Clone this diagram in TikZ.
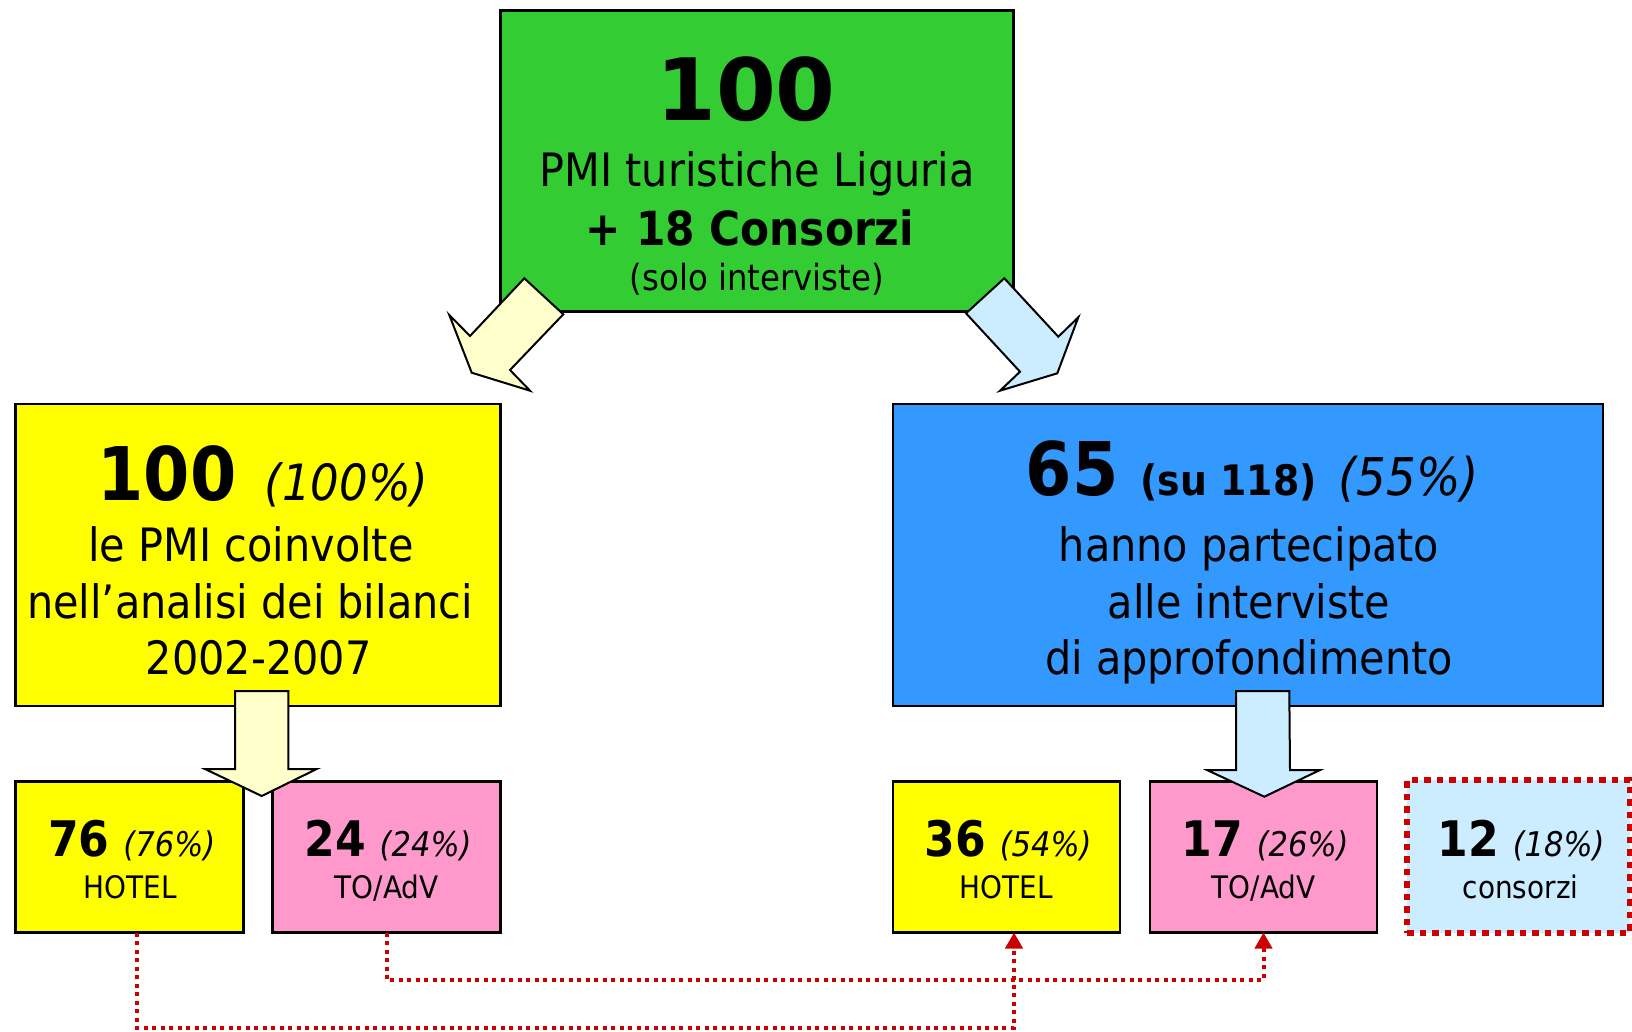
\documentclass[tikz,border=0pt]{standalone}
\usepackage{fontspec}
\setmainfont{DejaVu Sans}[FakeStretch=0.9]
\newfontfamily\widefont{DejaVu Sans}
\usetikzlibrary{arrows.meta}
\definecolor{topgreen}{HTML}{33CC33}
\definecolor{boxyellow}{HTML}{FFFF00}
\definecolor{boxblue}{HTML}{3399FF}
\definecolor{boxpink}{HTML}{FF99CC}
\definecolor{paleyellow}{HTML}{FFFFCC}
\definecolor{paleblue}{HTML}{CCECFF}
\definecolor{linkred}{HTML}{CC0000}
\newcommand{\sz}[1]{\fontsize{#1}{#1}\selectfont}

\begin{document}
\begin{tikzpicture}[x=1pt, y=-1pt,
	box/.style={draw, line width=2.5pt, inner sep=0pt, outer sep=0pt, minimum height=151pt, minimum width=228pt},
	txt/.style={anchor=base, inner sep=0pt},
	bigarrow/.style={draw, line width=2pt, line join=miter},
	link/.style={draw=linkred, line width=4pt, dash pattern=on 4pt off 4.5pt, -{Triangle[width=17pt,length=16pt]}}]
		\useasboundingbox (0,0) rectangle (1632,1031);

		% boxes
		\path
		(757,160.8) node[box, fill=topgreen, minimum width=513pt, minimum height=301pt] (pmi) {}
		(258.1,554.8) node[box, fill=boxyellow, minimum width=485pt, minimum height=302pt] (bilanci) {}
		(1247.9,554.8) node[box, fill=boxblue, minimum width=710pt, minimum height=302pt] (interv) {}
		(129.5,857) node[box, fill=boxyellow] (hotelA) {}
		(386.6,857) node[box, fill=boxpink] (toadvA) {}
		(1006.5,857) node[box, fill=boxyellow, minimum width=227pt] (hotelB) {}
		(1263.5,857) node[box, fill=boxpink, minimum width=227pt] (toadvB) {}
		(1518.5,856.4) node[box, fill=paleblue, draw=linkred, line width=5.5pt, dash pattern=on 6.5pt off 6pt, minimum width=223pt, minimum height=152.7pt] (consB) {};

		% big arrows
		\draw[bigarrow, fill=paleyellow] (524.3,278.3) -- (563.3,314.3) -- (510,370) -- (530,390.7) -- (471.7,372.7) -- (449.3,315) -- (470,336) -- cycle;
		\draw[bigarrow, fill=paleblue] (1004.3,278.3) -- (966,313.3) -- (1020,371.7) -- (1000,390.7) -- (1057.3,373.3) -- (1078.3,317.3) -- (1058.3,336.7) -- cycle;
		\draw[bigarrow, fill=paleyellow] (235,691) -- (288.3,691) -- (288.3,769) -- (316.7,769) -- (261.7,796) -- (205,769) -- (235,769) -- cycle;
		\draw[bigarrow, fill=paleblue] (1236,691) -- (1289.3,691) -- (1290,770) -- (1320,770) -- (1264.3,796.7) -- (1207,770) -- (1236,770) -- cycle;

		% texts
		\path
		(746,120) node[txt] (pmiN) {\widefont\bfseries\sz{86}100}
		(757,186.7) node[txt] (pmiA) {\sz{46}PMI turistiche Liguria}
		(750,245) node[txt] (pmiB) {\sz{47}\bfseries + 18 Consorzi}
		(757,290) node[txt] (pmiC) {\sz{36}(solo interviste)};

		\path
		(263,500) node[txt] (bilN) {{\sz{74}\bfseries 100}\hspace{28pt}{\sz{50}\itshape (100\%)}}
		(251,561) node[txt] (bilA) {\sz{46}le PMI coinvolte}
		(250,618) node[txt] (bilB) {\sz{46}nell’analisi dei bilanci}
		(258.6,674) node[txt] (bilC) {\sz{46}2002-2007};

		\path
		(1252.6,495) node[txt] (intN) {{\sz{74}\bfseries 65}\hspace{22pt}{\sz{42}\bfseries (su 118)}\hspace{22pt}{\sz{52}\itshape (55\%)}}
		(1249,561) node[txt] (intA) {\sz{46}hanno partecipato}
		(1249,618) node[txt] (intB) {\sz{46}alle interviste}
		(1249,674) node[txt] (intC) {\sz{46}di approfondimento};

		\path
		(131.7,856.7) node[txt] (hotelAN) {{\sz{49}\bfseries 76}\hspace{14pt}{\sz{34}\itshape (76\%)}}
		(130,898) node[txt] (hotelAT) {\sz{31}HOTEL}
		(388,856.7) node[txt] (toadvAN) {{\sz{49}\bfseries 24}\hspace{14pt}{\sz{34}\itshape (24\%)}}
		(386.6,898) node[txt] (toadvAT) {\sz{31}TO/AdV}
		(1008,856.7) node[txt] (hotelBN) {{\sz{49}\bfseries 36}\hspace{14pt}{\sz{34}\itshape (54\%)}}
		(1006.5,898) node[txt] (hotelBT) {\sz{31}HOTEL}
		(1265,856.7) node[txt] (toadvBN) {{\sz{49}\bfseries 17}\hspace{14pt}{\sz{34}\itshape (26\%)}}
		(1263.5,898) node[txt] (toadvBT) {\sz{31}TO/AdV}
		(1521,856.7) node[txt] (consBN) {{\sz{49}\bfseries 12}\hspace{14pt}{\sz{34}\itshape (18\%)}}
		(1520.6,898) node[txt] (consBT) {\sz{31}consorzi};

		% links
		\draw[link] ([xshift=7.8pt]hotelA.south) -- ++(0,95.5) -| ([xshift=7.5pt]hotelB.south);
		\draw[link] (toadvA.south) -- ++(0,47.5) -| (toadvB.south);
	\end{tikzpicture}
\end{document}
